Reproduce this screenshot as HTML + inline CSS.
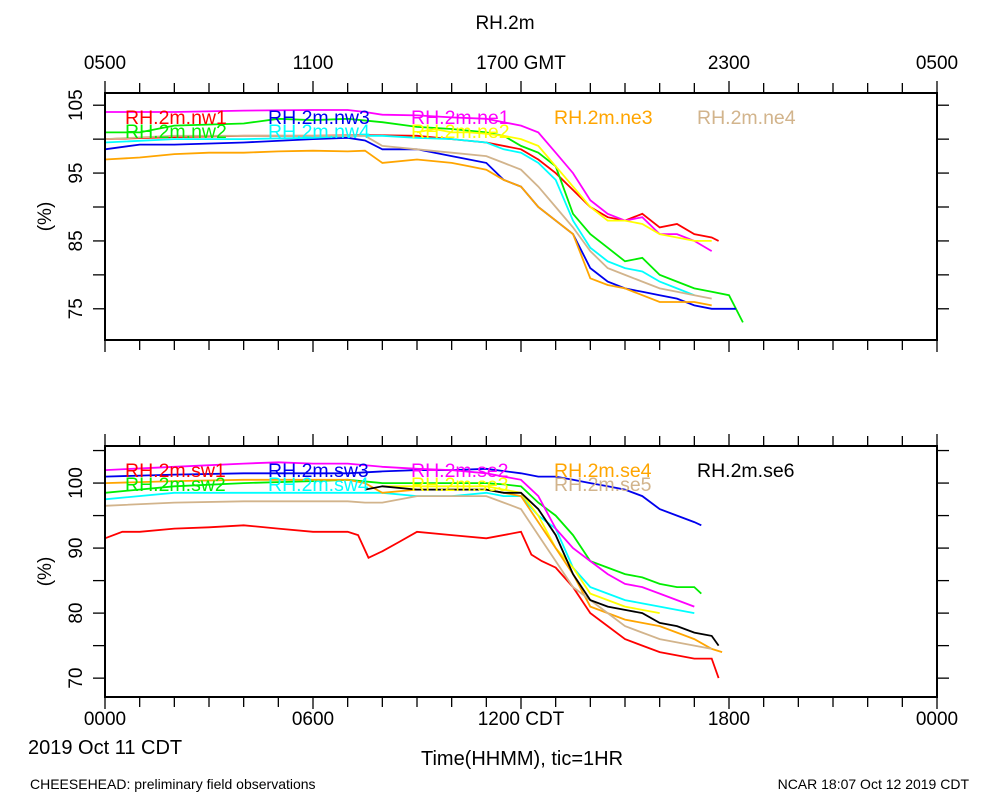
<!DOCTYPE html>
<html><head><meta charset="utf-8"><style>
body{margin:0;background:#fff;}
svg text{font-family:"Liberation Sans",sans-serif;}
</style></head><body>
<svg id="c" width="1000" height="800" xmlns="http://www.w3.org/2000/svg"></svg>
<script>
// ---- data ----
const topTickLabels = ["0500","1100","1700 GMT","2300","0500"];
const botTickLabels = ["0000","0600","1200 CDT","1800","0000"];
const topYTicks = [105,100,95,90,85,80,75];
const topYLabels = [105,95,85,75];
const botYTicks = [105,100,95,90,85,80,75,70];
const botYLabels = [100,90,80,70];
const topNames = ["RH.2m.nw1","RH.2m.nw2","RH.2m.nw3","RH.2m.nw4","RH.2m.ne1","RH.2m.ne2","RH.2m.ne3","RH.2m.ne4"];
const topColors = ["#ff0000","#00ee00","#0000ee","#00ffff","#ff00ff","#ffff00","#ffa500","#d2b48c"];
const botNames = ["RH.2m.sw1","RH.2m.sw2","RH.2m.sw3","RH.2m.sw4","RH.2m.se2","RH.2m.se3","RH.2m.se4","RH.2m.se5","RH.2m.se6"];
const botColors = ["#ff0000","#00ee00","#0000ee","#00ffff","#ff00ff","#ffff00","#ffa500","#d2b48c","#000000"];
const nw1H=[0,2,4,6,7.5,9,10,11,12,12.5,13,13.5,14,14.5,15,15.5,16,16.5,17,17.5,17.7];
const nw1V=[100,100.3,100.5,100.5,100.6,100.5,100,99.5,98.5,97,95,92.5,90,88.5,88,89,87,87.5,86,85.5,85];
const nw2H=[0,1,2,4,5,6,7,8,9,10,11,11.5,12,12.5,13,13.5,14,14.5,15,15.5,16,16.5,17,17.5,18,18.4];
const nw2V=[101,101,102,102.3,103,102.8,103,102.5,101.8,101.5,101,100.5,99,98,96,89,86,84,82,82.5,80,79,78,77.5,77,73];
const nw3H=[0,1,2,4,6,7,7.5,8,9,10,10.5,11,11.5,12,12.5,13,13.5,14,14.5,15,15.5,16,16.5,17,17.5,18,18.2];
const nw3V=[98.5,99.2,99.2,99.5,100,100.2,99.8,98.5,98.5,97.5,97,96.5,94,93,90,88,86,81,79,78,77.5,77,76.5,75.5,75,75,75];
const nw4H=[0,2,4,6,7,8,9,10,11,11.5,12,12.5,13,13.5,14,14.5,15,15.5,16,16.5,17];
const nw4V=[99.5,100,100,100.2,100.5,100.5,100.2,100,99.5,98.5,98,96.5,94,88,84,82,81,80.5,79,78,77];
const ne1H=[0,2,4,6,7,7.5,8,9,10,11,11.5,12,12.5,13,13.5,14,14.5,15,15.5,16,16.5,17,17.5];
const ne1V=[104,104,104.2,104.3,104.3,104,103.6,103.5,103.2,103,102.5,102,101,98,95,91,89,88,88.5,86,86,85,83.5];
const ne2H=[9,9.5,10,10.5,11,11.5,12,12.5,13,13.5,14,14.5,15,15.5,16,16.5,17,17.5];
const ne2V=[101,101.5,101,101,100.8,100.5,100,99,96,93,90,88,88,87.5,86,85.5,85,85];
const ne3H=[0,1,2,3,4,5,6,7,7.5,8,9,10,10.5,11,11.5,12,12.5,13,13.5,14,14.5,15,15.5,16,16.5,17,17.5];
const ne3V=[97,97.3,97.8,98,98,98.2,98.3,98.2,98.3,96.5,97,96.5,96,95.5,94,93,90,88,86,79.5,78.5,78,77,76,76,76,75.5];
const ne4H=[0,2,4,6,7,7.5,8,9,10,11,11.5,12,12.5,13,13.5,14,14.5,15,15.5,16,16.5,17,17.5];
const ne4V=[100,100.5,100.5,100.5,100.5,100.5,99,98.5,98,97.5,96.5,95.5,93,90,87,83.5,81,80,79,78,77.5,77,76.5];
const sw1H=[0,0.5,1,2,3,4,5,6,7,7.3,7.6,8,8.5,9,10,11,12,12.3,12.6,13,13.5,14,14.5,15,15.5,16,16.5,17,17.5,17.7];
const sw1V=[91.5,92.5,92.5,93,93.2,93.5,93,92.5,92.5,92,88.5,89.5,91,92.5,92,91.5,92.5,89,88,87,84,80,78,76,75,74,73.5,73,73,70];
const sw2H=[0,2,4,6,7,8,9,10,11,11.5,12,12.5,13,13.5,14,14.5,15,15.5,16,16.5,17,17.2];
const sw2V=[98.5,99.5,100,100.3,100.5,100,100,100,100,99.8,99.5,97,95,92,88,87,86,85.5,84.5,84,84,83];
const sw3H=[0,2,4,6,7,8,9,10,11,12,12.5,13,13.5,14,14.5,15,15.5,16,16.5,17,17.2];
const sw3V=[101,101.3,101.5,101.5,101.5,101.8,102,102,102.2,101.5,101,101,100.5,100,99.5,99,98,96,95,94,93.5];
const sw4H=[0,2,4,6,7,8,9,10,11,11.5,12,12.5,13,13.5,14,14.5,15,15.5,16,16.5,17];
const sw4V=[97.5,98.5,98.5,98.5,98.5,98.5,98,98,98.5,98,98,95,93,87,84,83,82,81.5,81,80.5,80];
const se2H=[0,2,4,5,6,7,8,9,10,11,11.5,12,12.5,13,13.5,14,14.5,15,15.5,16,16.5,17];
const se2V=[102,102.5,103,103.2,103,103,102.5,102.2,102,101.5,101,100.5,98,93,90,88,86,84.5,84,83,82,81];
const se3H=[8,9,10,11,11.5,12,12.5,13,13.5,14,14.5,15,15.5,16];
const se3V=[99.5,99.5,99.5,99.5,99,98.5,95,90,87,83,82,81,80.5,80];
const se4H=[0,2,4,6,7,7.5,8,9,10,11,11.5,12,12.5,13,13.5,14,14.5,15,15.5,16,16.5,17,17.5,17.8];
const se4V=[100,100.3,100.5,100.5,100.5,100,98.5,99,99,99,98.5,98,94,90,86,81,80,79,78.5,78,77,76,74.5,74];
const se5H=[0,2,4,6,7,7.5,8,9,10,11,11.5,12,12.5,13,13.5,14,14.5,15,15.5,16,16.5,17,17.5];
const se5V=[96.5,97,97.2,97.2,97.2,97,97,98,98,98,97,96,92,88,84,82,80,78,77,76,75.5,75,74.5];
const se6H=[7.5,8,9,10,11,11.5,12,12.5,13,13.5,14,14.5,15,15.5,16,16.5,17,17.5,17.7];
const se6V=[99,99.5,99,99,99,98.5,98.5,96,92,86,82,81,80.5,80,78.5,78,77,76.5,75];
const topSeries=[[nw1H,nw1V],[nw2H,nw2V],[nw3H,nw3V],[nw4H,nw4V],[ne1H,ne1V],[ne2H,ne2V],[ne3H,ne3V],[ne4H,ne4V]];
const botSeries=[[sw1H,sw1V],[sw2H,sw2V],[sw3H,sw3V],[sw4H,sw4V],[se2H,se2V],[se3H,se3V],[se4H,se4V],[se5H,se5V],[se6H,se6V]];

// ---- drawing ----
const svg=document.getElementById('c');
const NS="http://www.w3.org/2000/svg";
function mk(tag,attrs,parent){const e=document.createElementNS(NS,tag);for(const k in attrs)e.setAttribute(k,attrs[k]);(parent||svg).appendChild(e);return e;}
function txt(s,x,y,size,anchor,fill){const t=mk('text',{x:x,y:y,'font-size':size,'text-anchor':anchor||'middle',fill:fill||'#000'});t.textContent=s;return t;}
const X0=105,X1=937;
const xs=h=>X0+(X1-X0)*h/24;

function panel(y0,y1,vTop,vBot,yTicks,yLabels,series,colors,names,legY,topLabels,botLabels,pname){
  const ys=v=>y0+(y1-y0)*(vTop-v)/(vTop-vBot);
  const g=mk('g',{});
  
  
  series.forEach((s,i)=>{
    const d=s[0].map((h,j)=>(j?'L':'M')+xs(h).toFixed(1)+','+ys(s[1][j]).toFixed(1)).join('');
    const p=mk('path',{d:d,fill:'none',stroke:colors[i],'stroke-width':1.8},g);
    
    
  });
  const cols=[125,268,411,554,697];
  names.forEach((n,i)=>{
    let cx,cy;
    const c=Math.floor(i/2), r=i%2;
    cx=cols[c]; cy=legY+r*14;
    if(names.length===8 && i>=6){cx=cols[i-3];cy=legY;}
    const t=txt(n,cx,cy,19.5,'start',colors[i]);
    
    
  });
  const box=mk('rect',{x:X0,y:y0,width:X1-X0,height:y1-y0,fill:'none',stroke:'#000','stroke-width':2},g);
  
  
  for(let h=0;h<=24;h++){
    const L=(h%6===0)?12:10;
    mk('line',{x1:xs(h),x2:xs(h),y1:y0,y2:y0-L,stroke:'#000','stroke-width':1.3},g);
    mk('line',{x1:xs(h),x2:xs(h),y1:y1,y2:y1+L,stroke:'#000','stroke-width':1.3},g);
  }
  yTicks.forEach(v=>{
    mk('line',{x1:X0,x2:X0-12,y1:ys(v),y2:ys(v),stroke:'#000','stroke-width':1.3},g);
    mk('line',{x1:X1,x2:X1+12,y1:ys(v),y2:ys(v),stroke:'#000','stroke-width':1.3},g);
  });
  yLabels.forEach(v=>{
    const t=txt(String(v),0,0,19);
    t.setAttribute('transform','translate(82,'+ys(v)+') rotate(-90)');
    
    
  });
  if(topLabels) topLabels.forEach((s,i)=>{const t=txt(s,xs(i*6),y0-24,19);});
  if(botLabels) botLabels.forEach((s,i)=>{const t=txt(s,xs(i*6),y1+28,19);});
  const yt=txt('(%)',0,0,19);
  yt.setAttribute('transform','translate(51,'+((y0+y1)/2)+') rotate(-90)');
  
  
}
panel(93,340,106.8,70.4,topYTicks,topYLabels,topSeries,topColors,topNames,124,topTickLabels,null,'top-panel');
panel(446,697,105.7,67.1,botYTicks,botYLabels,botSeries,botColors,botNames,477,null,botTickLabels,'bottom-panel');

let t;
t=txt('RH.2m',505,29,19);
t=txt('2019 Oct 11 CDT',28,754,20,'start');
t=txt('Time(HHMM), tic=1HR',522,765,20);
t=txt('CHEESEHEAD: preliminary field observations',30,789,14,'start');
t=txt('NCAR 18:07 Oct 12 2019 CDT',969,789,14,'end');
</script>
</body></html>
